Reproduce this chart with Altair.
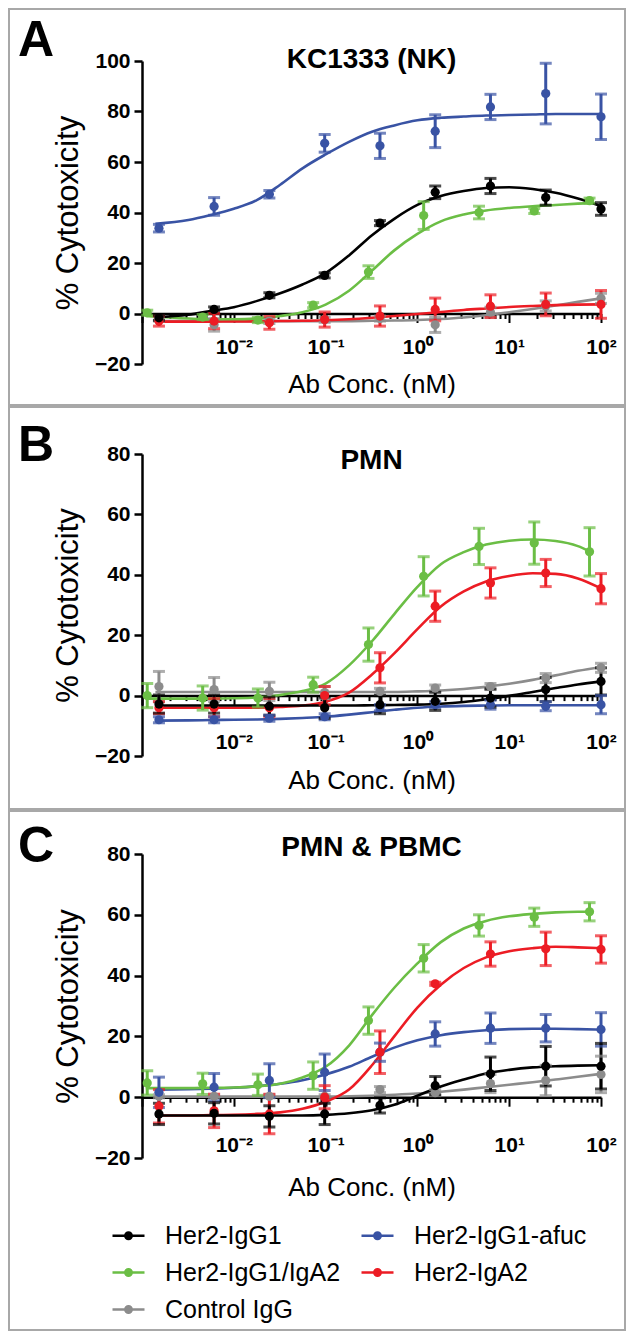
import altair as alt
import pandas as pd

FONT = "Liberation Sans"
SERIES = ["Her2-IgG1", "Her2-IgG1-afuc", "Her2-IgG1/IgA2", "Her2-IgA2", "Control IgG"]
COLORS = ["#000000", "#3953A4", "#6BBE45", "#EC1C24", "#8C8C8C"]
# order in which the legend fills its two columns (column by column)
LEGEND_ORDER = ["Her2-IgG1", "Her2-IgG1/IgA2", "Control IgG", "Her2-IgG1-afuc", "Her2-IgA2"]
DRAW_ORDER = ["Control IgG", "Her2-IgG1-afuc", "Her2-IgA2", "Her2-IgG1/IgA2", "Her2-IgG1"]
GREEN = "Her2-IgG1/IgA2"

# antibody concentrations (nM)
CONC = [0.00153, 0.0061, 0.0244, 0.0977, 0.391, 1.5625, 6.25, 25, 100]
CONC_GREEN = [0.00114, 0.00458, 0.0183, 0.0732, 0.293, 1.17, 4.69, 18.75, 75]
CURVE_X = [0.0014, 0.0032, 0.0056, 0.01, 0.018, 0.032, 0.056, 0.1, 0.18, 0.32,
           0.56, 1, 1.8, 3.2, 5.6, 10, 18, 32, 56, 100]
CURVE_X_GREEN = [0.0011, 0.0032, 0.0056, 0.01, 0.018, 0.032, 0.056, 0.1, 0.18, 0.32,
                 0.56, 1, 1.8, 3.2, 5.6, 10, 18, 32, 56, 75]

X_TICKS = [0.001, 0.002, 0.003, 0.004, 0.005, 0.006, 0.007, 0.008, 0.009,
           0.01, 0.02, 0.03, 0.04, 0.05, 0.06, 0.07, 0.08, 0.09,
           0.1, 0.2, 0.3, 0.4, 0.5, 0.6, 0.7, 0.8, 0.9,
           1, 2, 3, 4, 5, 6, 7, 8, 9,
           10, 20, 30, 40, 50, 60, 70, 80, 90, 100]
X_MAJOR = [0.001, 0.01, 0.1, 1, 10, 100]
X_LABELS = {0.01: "10⁻²", 0.1: "10⁻¹", 1: "10⁰", 10: "10¹", 100: "10²"}
Y_TICKS_A = [-20, 0, 20, 40, 60, 80, 100]
Y_TICKS_BC = [-20, 0, 20, 40, 60, 80]

# ---------------- Panel A: KC1333 (NK) ----------------
A_MEAN = {
    "Her2-IgG1": [-1.7, 1.6, 7.2, 15.1, 35.8, 48, 50.5, 45.9, 41.4],
    "Her2-IgG1-afuc": [33.8, 42.4, 47.2, 67.4, 66.4, 72.2, 81.8, 87.1, 77.9],
    "Her2-IgG1/IgA2": [0.3, -1.4, -2.6, 3.3, 16.4, 38.8, 40, 40.6, 44.7],
    "Her2-IgA2": [-3, -3, -3.7, -2.4, -1, 1.6, 2.9, 3.6, 3.6],
    "Control IgG": [-2, -4.5, -3, -2.5, -2, -4.5, 0.5, 3, 6],
}
A_ERR = {
    "Her2-IgG1": [1, 1, 1, 1, 1, 2.5, 3, 3, 2.5],
    "Her2-IgG1-afuc": [1.5, 3.5, 1.5, 3.5, 5, 6.5, 5, 12, 9],
    "Her2-IgG1/IgA2": [1, 1, 1, 1, 2.5, 5.5, 2.5, 1, 1],
    "Her2-IgA2": [2, 3, 2.5, 3, 4, 4.5, 4.5, 4.5, 5.5],
    "Control IgG": [1, 2.5, 1, 1, 1, 3, 2, 2, 2],
}
A_FIT = {
    "Her2-IgG1": [-1.5, -0.5, 1, 2.5, 5, 8, 11.5, 16, 23, 31, 37.5, 43, 46.5, 48.5, 49.7, 50, 49.3, 47.8, 45.5, 42.5],
    "Her2-IgG1-afuc": [35.5, 37, 39, 41.5, 45, 51, 57.5, 63, 68, 72, 74.5, 76.5, 77.5, 78, 78.4, 78.6, 78.8, 79, 79, 79],
    "Her2-IgG1/IgA2": [-1, -2, -2.3, -2.3, -2, -1, 0.5, 3.5, 9, 17, 25, 31.5, 36.5, 39.2, 40.8, 41.8, 42.5, 43, 43.5, 43.7],
    "Her2-IgA2": [-3.2, -3.2, -3.2, -3.1, -3.1, -3.0, -2.9, -2.7, -2.3, -1.7, -1.0, -0.2, 0.6, 1.4, 2.0, 2.6, 3.0, 3.3, 3.5, 3.6],
    "Control IgG": [-3, -3, -3, -3, -3, -3, -3, -3, -3, -2.9, -2.8, -2.6, -2.2, -1.6, -0.7, 0.5, 1.8, 3.2, 4.6, 6],
}

# ---------------- Panel B: PMN ----------------
B_MEAN = {
    "Her2-IgG1": [-2.8, -2.8, -3.5, -4, -3, -1.9, -0.8, 2, 4.7],
    "Her2-IgG1-afuc": [-8, -8, -7.5, -7, -4, -3, -3, -3.5, -3],
    "Her2-IgG1/IgA2": [0, -0.8, -0.8, 3.6, 16.9, 39.5, 49.4, 50.5, 47.6],
    "Her2-IgA2": [-4, -4, -4, 0, 9.2, 29.6, 37.3, 40.6, 35.4],
    "Control IgG": [3, 2, 1.4, 1, 1.4, 2.5, 3, 5.8, 9.2],
}
B_ERR = {
    "Her2-IgG1": [3, 3, 3, 3.5, 3, 3, 3, 4, 4.5],
    "Her2-IgG1-afuc": [1, 1, 1, 1, 1, 1, 1.5, 1.5, 3],
    "Her2-IgG1/IgA2": [4, 4, 3, 2.5, 5.5, 6.5, 6, 7, 8],
    "Her2-IgA2": [2, 3, 3, 3, 5, 5, 5, 4.5, 5],
    "Control IgG": [5, 4, 3, 2, 1, 1, 1, 1.5, 1.5],
}
B_FIT = {
    "Her2-IgG1": [-3.3, -3.3, -3.3, -3.3, -3.3, -3.3, -3.3, -3.3, -3.3, -3.2, -3.1, -3.0, -2.7, -2.1, -1.2, -0.1, 1.2, 2.5, 3.7, 4.7],
    "Her2-IgG1-afuc": [-8.3, -8.2, -8.1, -8, -7.9, -7.7, -7.4, -7, -6.3, -5.5, -4.7, -4, -3.6, -3.4, -3.3, -3.2, -3.2, -3.2, -3.2, -3.2],
    "Her2-IgG1/IgA2": [-1, -1, -1, -0.9, -0.6, 0.2, 1.5, 4, 10, 18, 27, 36, 43.5, 47.5, 50, 51.3, 51.7, 51.2, 49.5, 47.8],
    "Her2-IgA2": [-4, -4, -4, -4, -4, -3.8, -3.3, -2, 1, 7, 14, 22, 29.5, 34.5, 37.8, 39.6, 40.5, 40.3, 38.8, 35.5],
    "Control IgG": [1.2, 1.2, 1.2, 1.2, 1.2, 1.2, 1.2, 1.2, 1.2, 1.2, 1.2, 1.4, 1.7, 2.2, 2.9, 3.9, 5.2, 6.7, 8.2, 9.4],
}

# ---------------- Panel C: PMN & PBMC ----------------
C_MEAN = {
    "Her2-IgG1": [-5.5, -5.3, -6.3, -5.5, -2.7, 3.8, 7.7, 10.2, 10.2],
    "Her2-IgG1-afuc": [1.6, 3.3, 5.5, 8.2, 14.8, 20.8, 22.7, 22.7, 22.3],
    "Her2-IgG1/IgA2": [4.7, 4.4, 4.1, 7.1, 25.2, 45.7, 56.5, 59.2, 61],
    "Her2-IgA2": [-3, -4.5, -5.5, 0, 14.8, 37.3, 47.1, 48.8, 48.6],
    "Control IgG": [0.3, 0.3, 0.3, 0.3, 2.5, 1.5, 4.5, 5.5, 7.5],
}
C_ERR = {
    "Her2-IgG1": [3.5, 3.5, 3.5, 3.5, 2.5, 3, 5.5, 6.5, 7.5],
    "Her2-IgG1-afuc": [5, 4.5, 5.5, 6, 3, 4, 5, 4.5, 5.5],
    "Her2-IgG1/IgA2": [4, 3.5, 3.5, 4.5, 4.5, 4.5, 3.5, 3, 3],
    "Her2-IgA2": [5.5, 5.5, 6.5, 3.8, 7, 0.5, 4, 5.5, 4.5],
    "Control IgG": [0.5, 0.5, 0.5, 0.5, 1, 1, 3, 5, 6],
}
C_FIT = {
    "Her2-IgG1": [-6, -6, -6, -6, -6, -6, -6, -5.8, -5.3, -4.3, -2.5, 0.5, 3.5, 5.8, 7.8, 9, 9.8, 10.2, 10.4, 10.5],
    "Her2-IgG1-afuc": [2.5, 2.6, 2.8, 3.1, 3.6, 4.4, 5.6, 7.5, 10, 13.3, 16.3, 18.7, 20.4, 21.4, 22, 22.4, 22.5, 22.5, 22.4, 22.2],
    "Her2-IgG1/IgA2": [3, 3, 3.1, 3.2, 3.6, 4.4, 6.5, 10, 17, 27, 36, 44, 51, 55.5, 58, 59.5, 60.3, 60.8, 61, 61],
    "Her2-IgA2": [-6, -6, -5.9, -5.8, -5.5, -5, -3.8, -1.5, 2.5, 10.5, 20, 29.5, 37, 42.5, 46, 48, 49, 49.5, 49.3, 49],
    "Control IgG": [0.2, 0.2, 0.2, 0.2, 0.2, 0.2, 0.2, 0.2, 0.3, 0.5, 0.8, 1.2, 1.8, 2.5, 3.3, 4.1, 4.9, 5.8, 6.7, 7.7],
}

W = 459
COLOR_SCALE = alt.Scale(domain=LEGEND_ORDER,
                        range=[COLORS[SERIES.index(s)] for s in LEGEND_ORDER])
MAJOR_TEST = " || ".join(f"datum.value == {v}" for v in X_MAJOR)
LABEL_EXPR = " : ".join(f"datum.value == {k} ? '{v}'" for k, v in X_LABELS.items()) + " : ''"
LEGEND_PATH = ("M-1,0L1,0"
               "M0.2,0A0.2,0.2,0,1,1,-0.2,0A0.2,0.2,0,1,1,0.2,0"
               "M0.12,0A0.12,0.12,0,1,1,-0.12,0A0.12,0.12,0,1,1,0.12,0"
               "M0.04,0A0.04,0.04,0,1,1,-0.04,0A0.04,0.04,0,1,1,0.04,0")


def point_frame(mean, err):
    rows = []
    for s in DRAW_ORDER:
        xs = CONC_GREEN if s == GREEN else CONC
        for x, m, e in zip(xs, mean[s], err[s]):
            rows.append({"series": s, "conc": x, "val": m, "lo": m - e, "hi": m + e})
    return pd.DataFrame(rows)


def fit_frame(fit):
    rows = []
    for s in DRAW_ORDER:
        xs = CURVE_X_GREEN if s == GREEN else CURVE_X
        for x, y in zip(xs, fit[s]):
            rows.append({"series": s, "cx": x, "cy": y})
    return pd.DataFrame(rows)


def panel(letter, title, mean, err, fit, ymin, ymax, yticks, h,
          rect_top, rect_bottom, letter_y, title_y, label_pad, xtitle_y, legend):
    offset = -h * (0 - ymin) / (ymax - ymin)
    xaxis = alt.Axis(values=X_TICKS, labelExpr=LABEL_EXPR, grid=False,
                     tickSize={"condition": {"test": MAJOR_TEST, "value": 9}, "value": 5},
                     tickWidth=2, tickColor="black", domainColor="black", domainWidth=2.5,
                     labelFont=FONT, labelFontSize=21, labelFontWeight="bold", labelColor="black",
                     labelPadding=label_pad, labelOverlap=False, labelFlush=False,
                     offset=offset, titleFont=FONT, titleFontSize=26, titleFontWeight="normal",
                     titleColor="black", titleX=W / 2, titleY=xtitle_y, titleBaseline="middle",
                     titleAlign="center")
    yaxis = alt.Axis(values=yticks, grid=False, tickSize=8, tickWidth=2.5, tickColor="black",
                     domainColor="black", domainWidth=2.5, labelFont=FONT, labelFontSize=21,
                     labelFontWeight="bold", labelColor="black", labelPadding=4,
                     titleFont=FONT, titleFontSize=31, titleFontWeight="normal", titleColor="black",
                     titleX=-74, titleY=h / 2, titleAngle=270, titleBaseline="middle",
                     titleAlign="center")
    xs = alt.Scale(type="log", domain=[0.001, 100], nice=False)
    ys = alt.Scale(domain=[ymin, ymax], nice=False, zero=False)

    pts = point_frame(mean, err)
    fits = fit_frame(fit)

    def X(field):
        return alt.X(f"{field}:Q", scale=xs, axis=xaxis, title="Ab Conc. (nM)")

    def Y(field):
        return alt.Y(f"{field}:Q", scale=ys, axis=yaxis, title="% Cytotoxicity")

    col_nolegend = alt.Color("series:N", scale=COLOR_SCALE, legend=None)
    col_line = alt.Color("series:N", scale=COLOR_SCALE, legend=legend) if legend is not None else col_nolegend

    border = alt.Chart(pd.DataFrame({"k": [0]})).mark_rect(
        fillOpacity=0, stroke="#a8a8a8", strokeWidth=2).encode(
        x=alt.value(-133), x2=alt.value(483), y=alt.value(rect_top), y2=alt.value(rect_bottom))
    letter_mark = alt.Chart(pd.DataFrame({"t": [letter]})).mark_text(
        font=FONT, fontSize=50, fontWeight="bold", align="center", baseline="middle",
        color="black").encode(text="t:N", x=alt.value(-106), y=alt.value(letter_y))
    title_mark = alt.Chart(pd.DataFrame({"t": [title]})).mark_text(
        font=FONT, fontSize=28, fontWeight="bold", align="center", baseline="middle",
        color="black").encode(text="t:N", x=alt.value(W / 2), y=alt.value(title_y))

    lines = alt.Chart(fits).mark_line(strokeWidth=2.6, interpolate="monotone", clip=False).encode(
        x=X("cx"), y=Y("cy"), color=col_line, detail="series:N")
    rules = alt.Chart(pts).mark_rule(strokeWidth=3).encode(
        x=X("conc"), y=Y("lo"), y2="hi:Q", color=col_nolegend)
    cap_lo = alt.Chart(pts).mark_tick(orient="horizontal", size=12, thickness=3).encode(
        x=X("conc"), y=Y("lo"), color=col_nolegend)
    cap_hi = alt.Chart(pts).mark_tick(orient="horizontal", size=12, thickness=3).encode(
        x=X("conc"), y=Y("hi"), color=col_nolegend)
    dots = alt.Chart(pts).mark_point(filled=True, size=85, opacity=1, shape="circle").encode(
        x=X("conc"), y=Y("val"), color=col_nolegend)

    return alt.layer(border, letter_mark, title_mark, lines, rules, cap_lo, cap_hi, dots).properties(
        width=W, height=h)


legend_c = alt.Legend(orient="none", legendX=-31, legendY=364, columns=2, title=None,
                      symbolType=LEGEND_PATH, symbolSize=1024, symbolStrokeWidth=2.5,
                      labelFont=FONT, labelFontSize=25, labelColor="black", labelOffset=19,
                      columnPadding=15, rowPadding=6, padding=0, labelLimit=400)

pa = panel("A", "KC1333 (NK)", A_MEAN, A_ERR, A_FIT, -20, 100, Y_TICKS_A, 303,
           -52, 344, -20, -1, 14, 71, None)
pb = panel("B", "PMN", B_MEAN, B_ERR, B_FIT, -20, 80, Y_TICKS_BC, 302,
           -47, 355, -8, 7, 27, 85, None)
pc = panel("C", "PMN & PBMC", C_MEAN, C_ERR, C_FIT, -20, 80, Y_TICKS_BC, 304,
           -43, 476, -7, -6, 28, 90, legend_c)

chart = alt.vconcat(pa, pb, pc, spacing=0).resolve_scale(
    x="independent", y="independent", color="independent").properties(
    padding=0, background="white").configure_view(strokeWidth=0)

chart.save("out.html", embed_options={"renderer": "svg", "actions": False})
